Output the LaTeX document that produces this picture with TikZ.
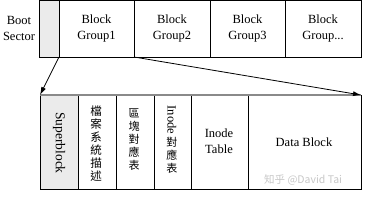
\documentclass[tikz,border=0pt]{standalone}
\usepackage{fontspec}
\setmainfont{Liberation Serif}
\newfontfamily\cjk{Noto Sans CJK TC}
\usetikzlibrary{arrows.meta}
\definecolor{boxgray}{HTML}{EBEBEB}
\definecolor{topline}{HTML}{8A8A8A}
\begin{document}
\begin{tikzpicture}[x=1pt,y=-1pt,
  cell/.style={draw=black,line width=0.8pt},
  lbl/.style={font=\fontsize{12.5}{16}\selectfont,align=center,inner sep=0pt},
  cjkcol/.style={font=\cjk\fontsize{11}{13}\selectfont,align=center,inner sep=0pt},
  link/.style={line width=0.8pt,-{Latex[length=8pt,width=5pt]}}]
\useasboundingbox (0,0) rectangle (376,200);
% top row
\draw[cell,fill=boxgray] (39,0.5) rectangle (59,57);
\draw[cell] (59,0.5) rectangle (134,57);
\draw[cell] (134,0.5) rectangle (210,57);
\draw[cell] (210,0.5) rectangle (285,57);
\draw[cell] (285,0.5) rectangle (361,57);
\node[lbl] (boot) at (19,28) {Boot\\Sector};
\node[lbl] (g1) at (96.5,28) {Block\\Group1};
\node[lbl] (g2) at (172,28) {Block\\Group2};
\node[lbl] (g3) at (247.5,28) {Block\\Group3};
\node[lbl] (g4) at (323,28) {Block\\Group...};
\coordinate (a1) at (59,57);
\coordinate (a2) at (134,57);
% bottom row
\draw[cell,fill=boxgray] (40,95) rectangle (78,189);
\draw[cell] (78,95) rectangle (116,189);
\draw[cell] (116,95) rectangle (154,189);
\draw[cell] (154,95) rectangle (191,189);
\draw[cell] (191,95) rectangle (248,189);
\draw[cell] (248,95) rectangle (361,189);
\draw[topline,line width=1.8pt] (40,95) -- (361,95);
\coordinate (b1) at (40,95);
\coordinate (b2) at (361,95);
\node[lbl,rotate=-90,font=\fontsize{13.5}{16}\selectfont] (sb) at (59,143) {Superblock};
\node[cjkcol,font=\cjk\fontsize{11.5}{13}\selectfont] (fsd) at (96,144) {檔\\案\\系\\統\\描\\述};
\node[cjkcol] (bmap) at (134,140) {區\\塊\\對\\應\\表};
\node[lbl,rotate=-90] (ino) at (172,120) {Inode};
\node[cjkcol] (imap) at (172,155) {對\\應\\表};
\node[lbl] (itab) at (219,141) {Inode\\Table};
\node[lbl] (data) at (304,142) {Data Block};
\node[font=\cjk\fontsize{10.5}{13}\selectfont,text=black!22,inner sep=0pt,anchor=west] (wm) at (264,180) {知乎 @David Tai};
% connectors
\draw[link] (a1) -- (b1);
\draw[link] (a2) -- (b2);
\end{tikzpicture}
\end{document}
